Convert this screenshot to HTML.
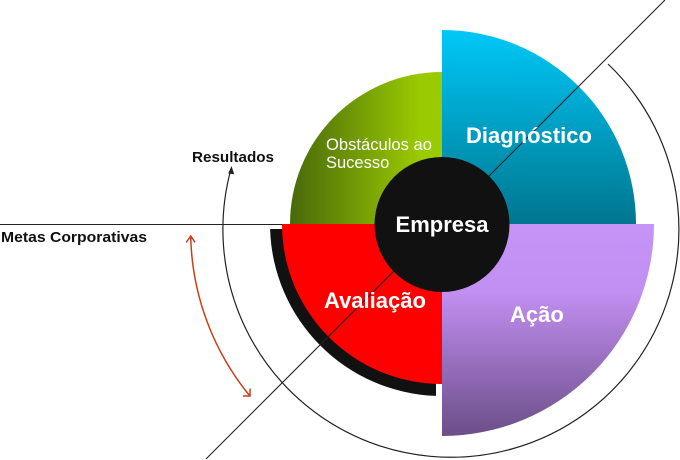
<!DOCTYPE html>
<html>
<head>
<meta charset="utf-8">
<style>
  html, body { margin:0; padding:0; background:#ffffff; }
  svg { display:block; }
  text { font-family: "Liberation Sans", "DejaVu Sans", sans-serif; }
</style>
</head>
<body>
<svg width="680" height="460" viewBox="0 0 680 460" xmlns="http://www.w3.org/2000/svg">
  <defs>
    <linearGradient id="gBlue" x1="0" y1="30" x2="0" y2="224" gradientUnits="userSpaceOnUse">
      <stop offset="0" stop-color="#00C8F8"/>
      <stop offset="1" stop-color="#00768F"/>
    </linearGradient>
    <linearGradient id="gGreen" x1="292" y1="0" x2="420" y2="0" gradientUnits="userSpaceOnUse">
      <stop offset="0" stop-color="#4A6A0A"/>
      <stop offset="1" stop-color="#9ACA00"/>
    </linearGradient>
    <linearGradient id="gPurple" x1="0" y1="224" x2="0" y2="436" gradientUnits="userSpaceOnUse">
      <stop offset="0" stop-color="#C594F7"/>
      <stop offset="0.32" stop-color="#C28FF2"/>
      <stop offset="1" stop-color="#6B4E88"/>
    </linearGradient>
  </defs>

  <!-- horizontal line -->
  <line x1="0" y1="224.5" x2="292" y2="224.5" stroke="#222" stroke-width="1"/>

  <!-- big thin arc with arrowhead (Resultados) -->
  <path d="M608,64 A228,228 0 1 1 231,169" fill="none" stroke="#222" stroke-width="1.2"/>
  <polygon points="231.5,166 228.2,173.5 234.2,174.2" fill="#222"/>

  <!-- red double arrow -->
  <path d="M190.7,237 A260.5,260.5 0 0 0 249.5,395.5" fill="none" stroke="#C8401A" stroke-width="1.5"/>
  <polyline points="186.2,242.5 190.7,236 195,242.3" fill="none" stroke="#C8401A" stroke-width="1.5"/>
  <polyline points="243,396 250,396 250,388.5" fill="none" stroke="#C8401A" stroke-width="1.5"/>

  <!-- sectors -->
  <path d="M442,224 L442,30 A194,194 0 0 1 636,224 Z" fill="url(#gBlue)"/>
  <path d="M442,224 L442,72 A152,152 0 0 0 290,224 Z" fill="url(#gGreen)"/>
  <path d="M436,229 L270.1,229 A172,172 0 0 0 436,395.9 Z" fill="#111111"/>
  <path d="M442,224 L282,224 A160,160 0 0 0 442,384 Z" fill="#FF0000"/>
  <path d="M442,224 L654,224 A212,212 0 0 1 442,436 Z" fill="url(#gPurple)"/>

  <!-- diagonal line -->
  <line x1="665" y1="0" x2="206" y2="459" stroke="#222" stroke-width="1.1"/>

  <!-- center circle -->
  <circle cx="442" cy="224.5" r="67.5" fill="#111111"/>

  <!-- labels -->
  <text x="466" y="143" font-size="22" font-weight="bold" fill="#ffffff">Diagnóstico</text>
  <text x="510" y="322" font-size="22" font-weight="bold" fill="#ffffff">Ação</text>
  <text x="324" y="308" font-size="22" font-weight="bold" fill="#ffffff">Avaliação</text>
  <text x="442" y="232" font-size="22" font-weight="bold" fill="#ffffff" text-anchor="middle">Empresa</text>
  <text x="326" y="150" font-size="16.5" fill="#ffffff" textLength="106" lengthAdjust="spacingAndGlyphs">Obstáculos ao</text>
  <text x="326" y="168" font-size="16.5" fill="#ffffff">Sucesso</text>

  <text x="192" y="162" font-size="15" font-weight="bold" fill="#111111" textLength="82" lengthAdjust="spacingAndGlyphs">Resultados</text>
  <text x="1" y="242" font-size="15" font-weight="bold" fill="#111111" textLength="146" lengthAdjust="spacingAndGlyphs">Metas Corporativas</text>
</svg>
</body>
</html>
